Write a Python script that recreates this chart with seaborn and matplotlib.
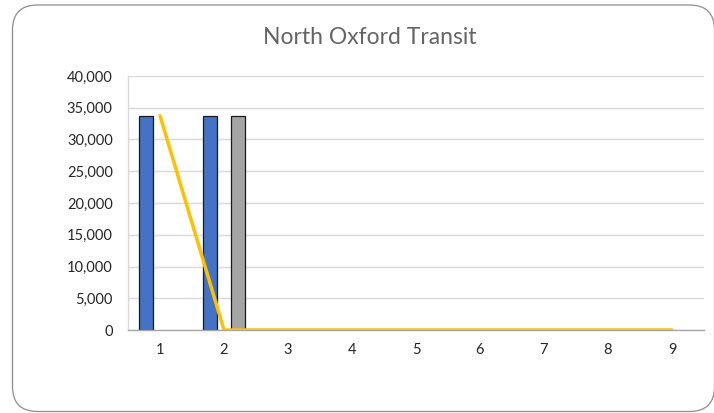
import numpy as np
import pandas as pd
import matplotlib
matplotlib.use("Agg")
import matplotlib.pyplot as plt
from matplotlib.patches import FancyBboxPatch
import seaborn as sns

# Data
categories = ["1", "2", "3", "4", "5", "6", "7", "8", "9"]
series_a = [33750, 33750, np.nan, np.nan, np.nan, np.nan, np.nan, np.nan, np.nan]
series_b = [np.nan] * 9
series_c = [np.nan, 33750, np.nan, np.nan, np.nan, np.nan, np.nan, np.nan, np.nan]
trend = [33750, 0, 0, 0, 0, 0, 0, 0, 0]
y_ticks = [0, 5000, 10000, 15000, 20000, 25000, 30000, 35000, 40000]

bars = pd.DataFrame({
    "category": categories * 3,
    "series": ["A"] * 9 + ["B"] * 9 + ["C"] * 9,
    "value": series_a + series_b + series_c,
})
line = pd.DataFrame({"pos": np.arange(len(categories)), "value": trend})

sns.set_theme(style="white")
plt.rcParams["font.family"] = ["Lato", "DejaVu Sans"]

W, H = 714, 413
fig = plt.figure(figsize=(W / 100, H / 100), dpi=100)

# Rounded chart frame
frame = FancyBboxPatch((12.5 / W, 1.5 / H), (714.5 - 12.5) / W, (408 - 1.5) / H,
                       boxstyle="round,pad=0,rounding_size=0.035",
                       transform=fig.transFigure, facecolor="none",
                       edgecolor="#8c8c8c", linewidth=0.9, zorder=-1,
                       mutation_aspect=W / H)
fig.patches.append(frame)

ax = fig.add_axes([128 / W, (H - 330) / H, (704 - 128) / W, (330 - 76) / H])
ax.set_facecolor("none")

palette = {"A": "#4472C4", "B": "#ED7D31", "C": "#A5A5A5"}
sns.barplot(data=bars, x="category", y="value", hue="series",
            order=categories, hue_order=["A", "B", "C"], palette=palette,
            width=0.66, edgecolor="#1a1a1a", linewidth=0.9, saturation=1,
            ax=ax, legend=False, zorder=3)
sns.lineplot(data=line, x="pos", y="value", color="#FFC000", linewidth=2.5,
             ax=ax, zorder=6)

ax.set_xlim(-0.5, len(categories) - 0.5)
ax.set_ylim(0, 40000)
ax.set_yticks(y_ticks)
ax.set_yticklabels([f"{v:,}" for v in y_ticks])
ax.set_xticks(range(len(categories)))
ax.set_xticklabels(categories)
ax.set_xlabel("")
ax.set_ylabel("")

ax.yaxis.grid(True, color="#d9d9d9", linewidth=1.0, zorder=0)
ax.set_axisbelow(True)
for side in ["top", "right"]:
    ax.spines[side].set_visible(False)
ax.spines["left"].set_color("#d9d9d9")
ax.spines["left"].set_linewidth(1.0)
ax.spines["bottom"].set_color("#a6a6a6")
ax.spines["bottom"].set_linewidth(1.0)
ax.spines["bottom"].set_zorder(5)

ax.tick_params(axis="both", length=0, labelsize=10.5, labelcolor="#262626")
ax.tick_params(axis="y", pad=11)
ax.tick_params(axis="x", pad=9)

fig.text(370 / W, (H - 38) / H, "North Oxford Transit", ha="center",
         va="center", fontsize=16.5, color="#646464")

fig.savefig("out.png", dpi=100)
